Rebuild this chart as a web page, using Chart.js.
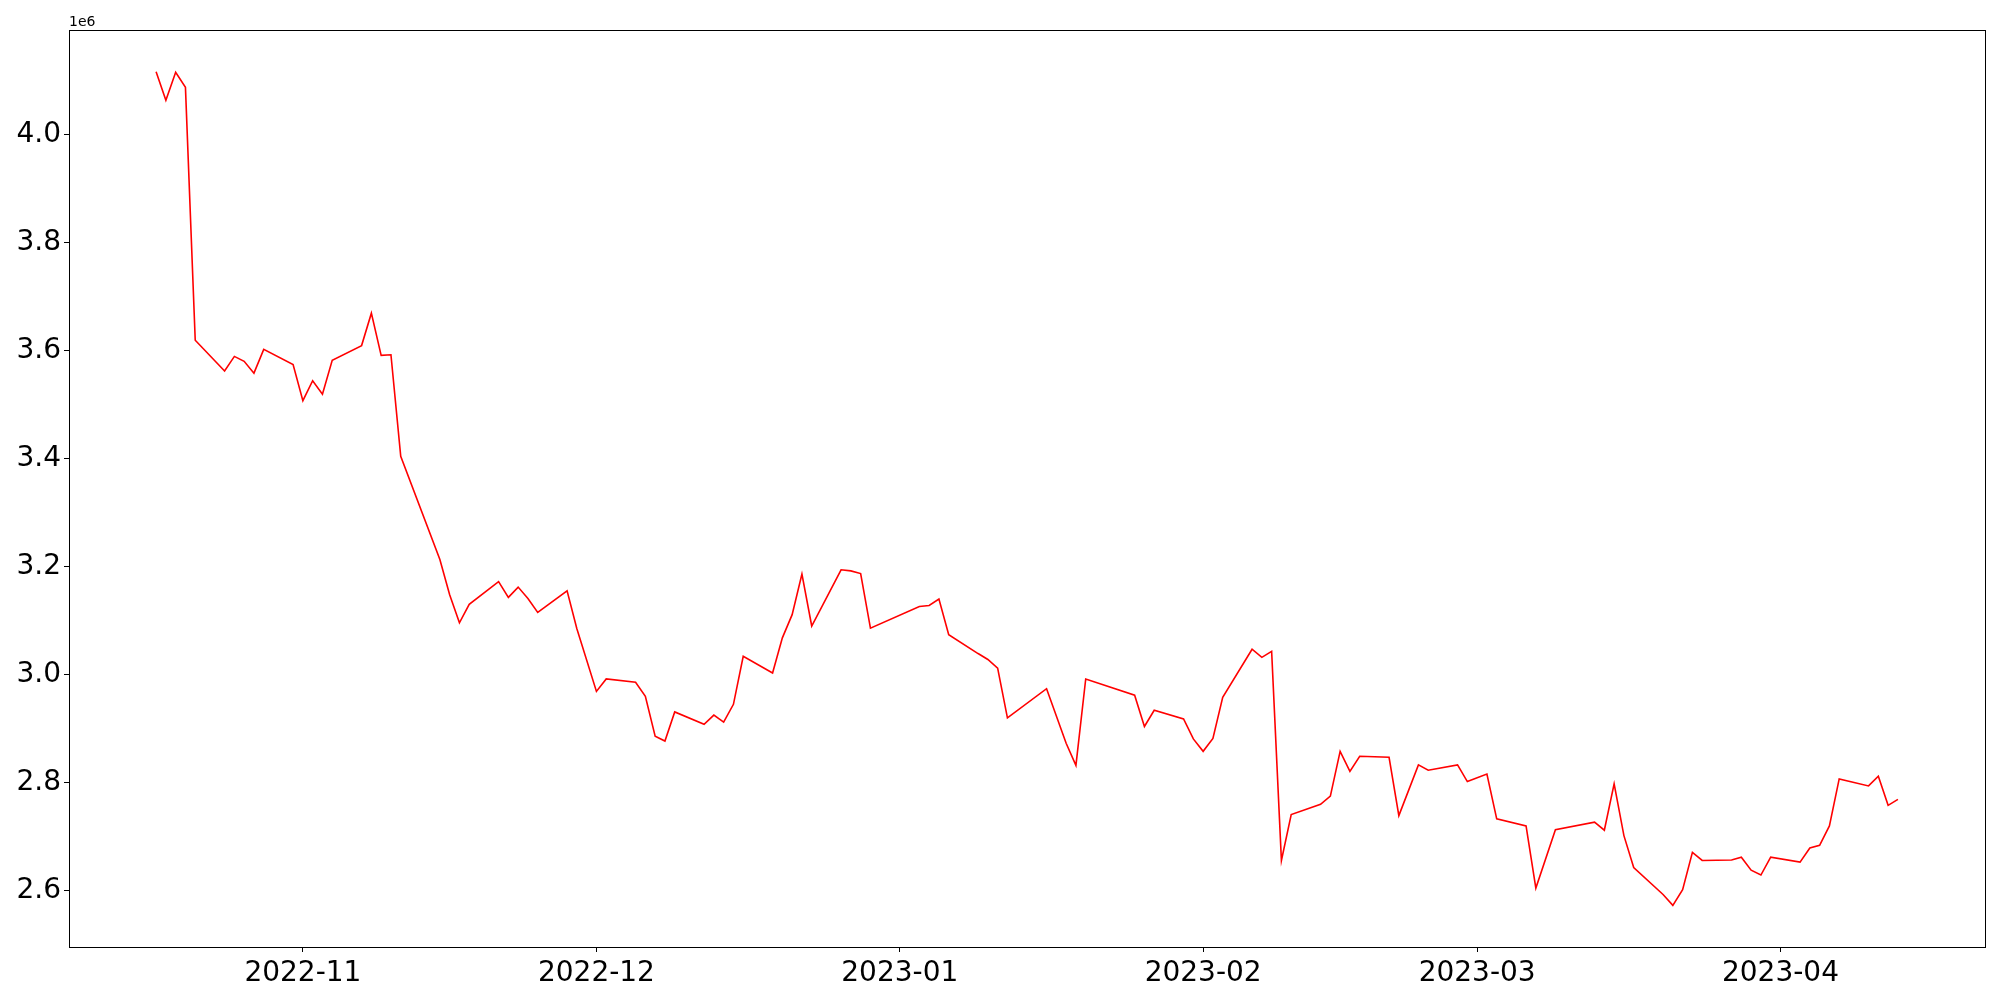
<!DOCTYPE html>
<html>
<head>
<meta charset="utf-8">
<script src="https://cdn.jsdelivr.net/npm/chart.js@4.4.1/dist/chart.umd.min.js"></script>
<style>
  body { margin: 0; background: #fff; }
  #wrap { width: 2000px; height: 1000px; }
</style>
</head>
<body>
<div id="wrap"><canvas id="myChart" width="2000" height="1000"></canvas></div>
<script>
const dates = [
    '2022-10-17', '2022-10-18', '2022-10-19', '2022-10-20', '2022-10-21',
    '2022-10-24', '2022-10-25', '2022-10-26', '2022-10-27', '2022-10-28',
    '2022-10-31', '2022-11-01', '2022-11-02', '2022-11-03', '2022-11-04',
    '2022-11-07', '2022-11-08', '2022-11-09', '2022-11-10', '2022-11-11',
    '2022-11-15', '2022-11-16', '2022-11-17', '2022-11-18',
    '2022-11-21', '2022-11-22', '2022-11-23', '2022-11-24', '2022-11-25',
    '2022-11-28', '2022-11-29', '2022-12-01', '2022-12-02',
    '2022-12-05', '2022-12-06', '2022-12-07', '2022-12-08', '2022-12-09',
    '2022-12-12', '2022-12-13', '2022-12-14', '2022-12-15', '2022-12-16',
    '2022-12-19', '2022-12-20', '2022-12-21', '2022-12-22', '2022-12-23',
    '2022-12-26', '2022-12-27', '2022-12-28', '2022-12-29',
    '2023-01-03', '2023-01-04', '2023-01-05', '2023-01-06',
    '2023-01-09', '2023-01-10', '2023-01-11', '2023-01-12',
    '2023-01-16', '2023-01-18', '2023-01-19', '2023-01-20',
    '2023-01-25', '2023-01-26', '2023-01-27',
    '2023-01-30', '2023-01-31', '2023-02-01', '2023-02-02', '2023-02-03',
    '2023-02-06', '2023-02-07', '2023-02-08', '2023-02-09', '2023-02-10',
    '2023-02-13', '2023-02-14', '2023-02-15', '2023-02-16', '2023-02-17',
    '2023-02-20', '2023-02-21', '2023-02-23', '2023-02-24',
    '2023-02-27', '2023-02-28', '2023-03-02', '2023-03-03',
    '2023-03-06', '2023-03-07', '2023-03-09',
    '2023-03-13', '2023-03-14', '2023-03-15', '2023-03-16', '2023-03-17',
    '2023-03-20', '2023-03-21', '2023-03-22', '2023-03-23', '2023-03-24',
    '2023-03-27', '2023-03-28', '2023-03-29', '2023-03-30', '2023-03-31',
    '2023-04-03', '2023-04-04', '2023-04-05', '2023-04-06', '2023-04-07',
    '2023-04-10', '2023-04-11', '2023-04-12', '2023-04-13'
];

const values = [
    4116000, 4063000, 4115000, 4087000, 3619000,
    3562000, 3589000, 3580000, 3558000, 3602000,
    3574000, 3507000, 3544000, 3519000, 3582000,
    3609000, 3669000, 3591000, 3592000, 3404000,
    3213000, 3148000, 3096000, 3130000,
    3172000, 3143000, 3162000, 3141000, 3115000,
    3155000, 3085000, 2969000, 2992000,
    2986000, 2960000, 2886000, 2877000, 2931000,
    2908000, 2925000, 2912000, 2945000, 3034000,
    3003000, 3068000, 3111000, 3186000, 3090000,
    3194000, 3192000, 3187000, 3086000,
    3126000, 3128000, 3140000, 3074000,
    3039000, 3028000, 3012000, 2920000,
    2974000, 2873000, 2832000, 2992000,
    2962000, 2904000, 2934000,
    2918000, 2881000, 2858000, 2882000, 2958000,
    3047000, 3032000, 3043000, 2656000, 2741000,
    2760000, 2775000, 2858000, 2821000, 2849000,
    2847000, 2739000, 2833000, 2823000,
    2833000, 2802000, 2816000, 2733000,
    2720000, 2605000, 2713000,
    2727000, 2712000, 2798000, 2702000, 2643000,
    2593000, 2573000, 2602000, 2671000, 2656000,
    2657000, 2662000, 2638000, 2629000, 2662000,
    2653000, 2679000, 2684000, 2720000, 2807000,
    2794000, 2812000, 2758000, 2769000
];

const monthTicks = ['2022-11', '2022-12', '2023-01', '2023-02', '2023-03', '2023-04'];
const yTicks = [2600000, 2800000, 3000000, 3200000, 3400000, 3600000, 3800000, 4000000];

// days since epoch, so the linear scale works without a date adapter
function toDay(s) {
    const p = s.split('-').map(Number);
    return Date.UTC(p[0], p[1] - 1, p[2] || 1) / 86400000;
}
function fromDay(d) {
    const dt = new Date(d * 86400000);
    return dt.getUTCFullYear() + '-' + String(dt.getUTCMonth() + 1).padStart(2, '0');
}

const points = dates.map((d, i) => ({ x: toDay(d), y: values[i] }));

// matplotlib style 5% margins
const xFirst = points[0].x, xLast = points[points.length - 1].x;
const xPad = (xLast - xFirst) * 0.05;
const yLo = Math.min(...values), yHi = Math.max(...values);
const yPad = (yHi - yLo) * 0.05;

const tickFont = { family: 'DejaVu Sans', size: 28 };

const frame = {
    id: 'frame',
    afterDraw(chart) {
        const { ctx, chartArea: a } = chart;
        ctx.save();
        ctx.strokeStyle = '#000';
        ctx.lineWidth = 1;
        ctx.strokeRect(Math.round(a.left) + 0.5, Math.round(a.top) + 0.5,
            Math.round(a.right - a.left), Math.round(a.bottom - a.top));
        ctx.fillStyle = '#000';
        ctx.font = '14px "DejaVu Sans"';
        ctx.textAlign = 'left';
        ctx.textBaseline = 'bottom';
        ctx.fillText('1e6', a.left, a.top - 1);
        ctx.restore();
    }
};

const ctx = document.getElementById('myChart');

new Chart(ctx, {
    type: 'line',
    data: {
        datasets: [
            {
                data: points,
                borderColor: '#ff0000',
                borderWidth: 1.6,
                pointRadius: 0,
                tension: 0,
                fill: false,
            }
        ],
    },
    options: {
        responsive: false,
        animation: false,
        devicePixelRatio: 1,
        layout: {
            padding: { top: 30, right: 15, left: 0, bottom: 0 }
        },
        plugins: {
            legend: { display: false },
            tooltip: { enabled: false },
        },
        scales: {
            x: {
                type: 'linear',
                min: xFirst - xPad,
                max: xLast + xPad,
                afterBuildTicks: (scale) => {
                    scale.ticks = monthTicks.map(m => ({ value: toDay(m) }));
                },
                afterFit: (scale) => { scale.height = 53; },
                ticks: {
                    color: '#000',
                    font: tickFont,
                    padding: 5,
                    maxRotation: 0,
                    autoSkip: false,
                    callback: (v) => fromDay(v),
                },
                grid: {
                    drawOnChartArea: false,
                    drawTicks: true,
                    tickLength: 5,
                    color: '#000',
                },
                border: { display: false },
            },
            y: {
                min: yLo - yPad,
                max: yHi + yPad,
                afterBuildTicks: (scale) => {
                    scale.ticks = yTicks.map(v => ({ value: v }));
                },
                afterFit: (scale) => { scale.width = 69; },
                ticks: {
                    color: '#000',
                    font: tickFont,
                    padding: 3,
                    autoSkip: false,
                    callback: (v) => (v / 1e6).toFixed(1),
                },
                grid: {
                    drawOnChartArea: false,
                    drawTicks: true,
                    tickLength: 5,
                    color: '#000',
                },
                border: { display: false },
            }
        }
    },
    plugins: [frame]
});
</script>
</body>
</html>
